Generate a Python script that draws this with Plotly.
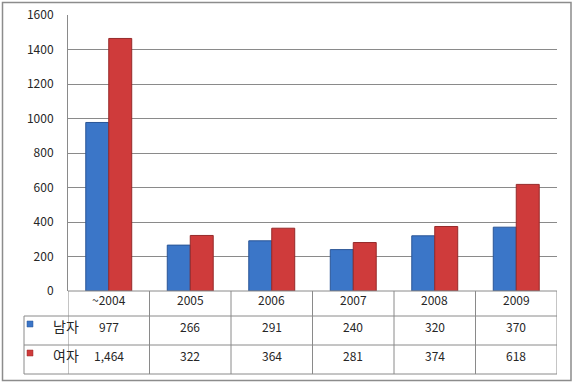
import plotly.graph_objects as go

categories = ["~2004", "2005", "2006", "2007", "2008", "2009"]
series_names = ["남자", "여자"]
men = [977, 266, 291, 240, 320, 370]
women = [1464, 322, 364, 281, 374, 618]
y_ticks = [0, 200, 400, 600, 800, 1000, 1200, 1400, 1600]

W, H = 573, 383
colors = ["#3b76c8", "#cf3b3b"]
edge = ["#2a5596", "#962a2a"]
grid = "#8a8a8a"
font = "Noto Sans CJK KR, Malgun Gothic, sans-serif"
txt = "#262626"

def px(x):
    return x / W

def py(y):
    return 1 - y / H

x_idx = list(range(len(categories)))

fig = go.Figure()
for name, vals, c, e in zip(series_names, [men, women], colors, edge):
    fig.add_trace(go.Bar(
        x=x_idx, y=vals, name=name,
        marker=dict(color=c, line=dict(color=e, width=1)),
        showlegend=False, hoverinfo="skip",
    ))

shapes = []
annotations = []
line = dict(color=grid, width=1)

# outer border
shapes.append(dict(type="rect", xref="paper", yref="paper",
                   x0=px(2.5), x1=px(571), y0=py(2.5), y1=py(380.5),
                   line=dict(color="#8c8c8c", width=1.5), layer="below"))

# data table grid
x_left_axis = px(68)
x_right = px(557)
x_leg = px(24)
rows = [291, 316, 345, 374]
shapes.append(dict(type="line", xref="paper", yref="paper", x0=x_left_axis, x1=x_right,
                   y0=py(rows[0]), y1=py(rows[0]), line=line))
for r in rows[1:]:
    shapes.append(dict(type="line", xref="paper", yref="paper", x0=x_leg, x1=x_right,
                       y0=py(r), y1=py(r), line=line))
shapes.append(dict(type="line", xref="paper", yref="paper", x0=x_leg, x1=x_leg,
                   y0=py(rows[1]), y1=py(rows[3]), line=line))
for i in range(len(categories) + 1):
    xb = i - 0.5
    shapes.append(dict(type="line", xref="x", yref="paper", x0=xb, x1=xb,
                       y0=py(rows[0]), y1=py(rows[3]), line=line))

tfont = dict(family=font, size=12, color=txt)
row_centers = [(rows[0] + rows[1]) / 2, (rows[1] + rows[2]) / 2, (rows[2] + rows[3]) / 2]
for i, cat in enumerate(categories):
    annotations.append(dict(x=i, y=py(row_centers[0]), xref="x", yref="paper",
                            text=cat, showarrow=False, font=tfont, yshift=-6))
    annotations.append(dict(x=i, y=py(row_centers[1]), xref="x", yref="paper",
                            text=f"{men[i]:,}", showarrow=False, font=tfont, yshift=-6))
    annotations.append(dict(x=i, y=py(row_centers[2]), xref="x", yref="paper",
                            text=f"{women[i]:,}", showarrow=False, font=tfont, yshift=-6))

for k, name in enumerate(series_names):
    yc = row_centers[k + 1]
    shapes.append(dict(type="rect", xref="paper", yref="paper",
                       x0=px(27), x1=px(33), y0=py(yc - 9.5), y1=py(yc - 3.5),
                       fillcolor=colors[k], line=dict(color=edge[k], width=0.5)))
    annotations.append(dict(x=px(51), y=py(yc), xref="paper", yref="paper",
                            text=name, showarrow=False, yshift=-7,
                            font=dict(family=font, size=14, color=txt)))

fig.update_layout(
    template="none",
    width=W, height=H,
    margin=dict(l=0, r=0, t=0, b=0, pad=0),
    paper_bgcolor="white", plot_bgcolor="white",
    showlegend=False,
    barmode="group", bargap=0.436, bargroupgap=0,
    xaxis=dict(domain=[px(68), px(557)], range=[-0.5, len(categories) - 0.5],
               showticklabels=False, showgrid=False, zeroline=False, showline=False,
               ticks="", automargin=False, fixedrange=True),
    yaxis=dict(domain=[py(291), py(15)], range=[0, 1600], tickvals=y_ticks,
               showgrid=True, gridcolor=grid, gridwidth=1, zeroline=False,
               showline=True, linecolor=grid, linewidth=1,
               ticks="outside", ticklen=0, ticklabelstandoff=11, automargin=False,
               tickfont=dict(family=font, size=12, color=txt), fixedrange=True),
    shapes=shapes, annotations=annotations,
    font=dict(family=font, color=txt),
)

fig.write_html("out.html", config={"displayModeBar": False},
               post_script="document.body.style.margin='0';document.body.style.overflow='hidden';")
